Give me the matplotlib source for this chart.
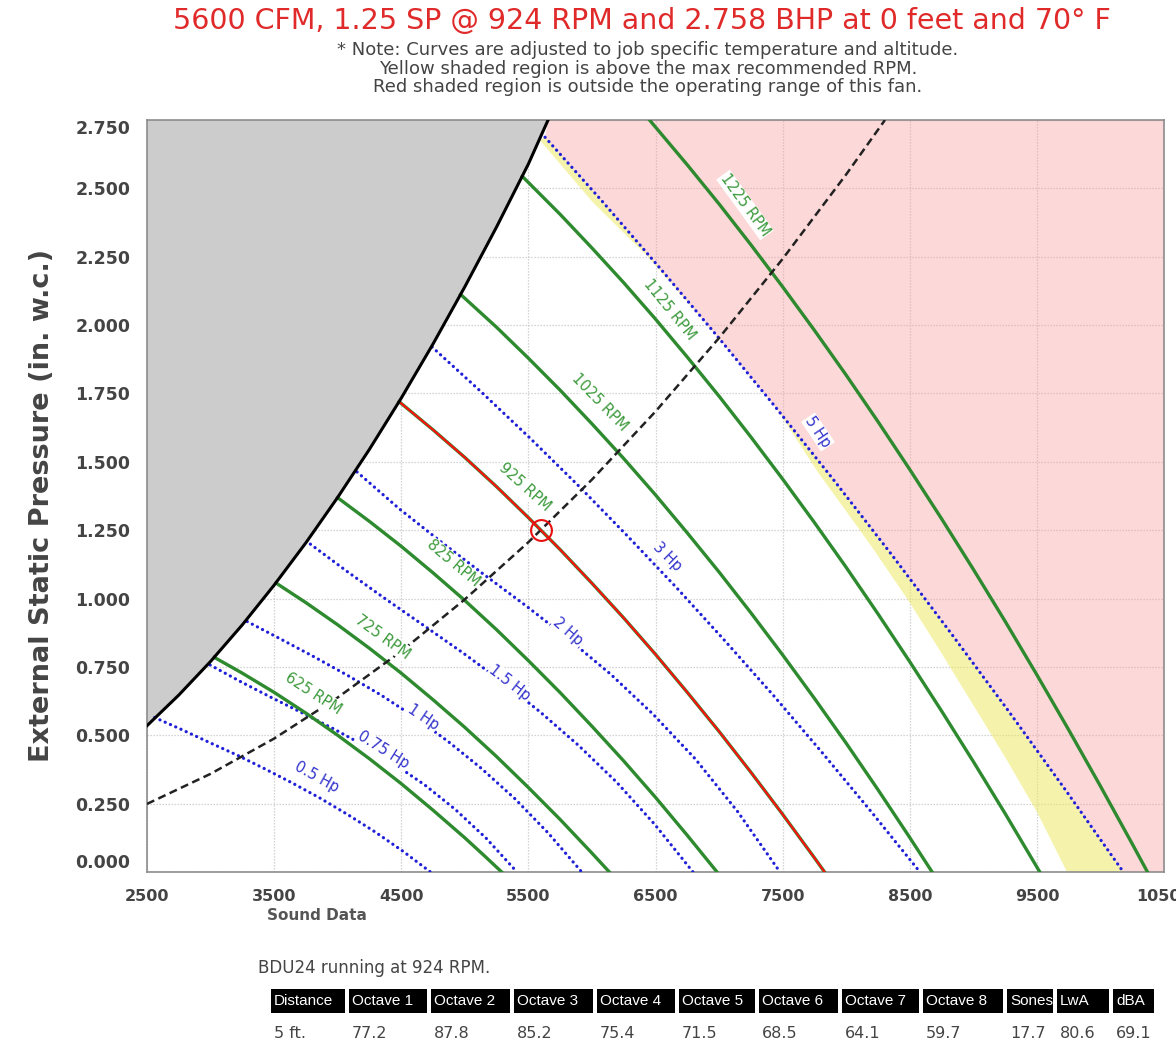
import matplotlib
matplotlib.use("Agg")
import matplotlib.pyplot as plt
from matplotlib.patches import Rectangle

W, H = 1176, 1060

# ---- chart values (CFM vs SP in. w.c.) ----
surge_cfm = [2500, 2750, 3000, 3250, 3500, 3750, 4000, 4250, 4500, 4750, 5000, 5250, 5500, 5655]
surge_sp = [0.535, 0.647, 0.770, 0.904, 1.049, 1.204, 1.370, 1.546, 1.733, 1.931, 2.140, 2.359, 2.589, 2.750]

system_cfm = [2500, 3000, 3500, 4000, 4500, 5000, 5500, 6000, 6500, 7000, 7500, 8000, 8305]
system_sp = [0.249, 0.359, 0.488, 0.638, 0.807, 0.997, 1.206, 1.435, 1.684, 1.953, 2.242, 2.551, 2.750]

cfm_625 = [3029, 3250, 3500, 3750, 4000, 4250, 4500, 4750, 5000, 5150, 5290]
sp_625 = [0.785, 0.727, 0.657, 0.581, 0.500, 0.414, 0.323, 0.226, 0.125, 0.061, 0.0]
cfm_725 = [3514, 3750, 4000, 4250, 4500, 4750, 5000, 5250, 5500, 5750, 6000, 6137]
sp_725 = [1.057, 0.985, 0.904, 0.818, 0.727, 0.630, 0.529, 0.422, 0.309, 0.192, 0.069, 0.0]
cfm_825 = [3999, 4250, 4500, 4750, 5000, 5250, 5500, 5750, 6000, 6250, 6500, 6750, 6984]
sp_825 = [1.369, 1.282, 1.191, 1.094, 0.993, 0.886, 0.773, 0.656, 0.533, 0.406, 0.273, 0.134, 0.0]
cfm_925 = [4483, 4750, 5000, 5250, 5500, 5750, 6000, 6250, 6500, 6750, 7000, 7250, 7500, 7750, 7830]
sp_925 = [1.720, 1.617, 1.516, 1.409, 1.296, 1.179, 1.056, 0.929, 0.796, 0.657, 0.514, 0.365, 0.211, 0.052, 0.0]
cfm_1025 = [4967, 5250, 5500, 5750, 6000, 6250, 6500, 6750, 7000, 7250, 7500, 7750, 8000, 8250, 8500, 8676]
sp_1025 = [2.112, 1.992, 1.879, 1.762, 1.639, 1.512, 1.379, 1.240, 1.097, 0.948, 0.794, 0.635, 0.471, 0.301, 0.126, 0.0]
cfm_1125 = [5452, 5750, 6000, 6250, 6500, 6750, 7000, 7250, 7500, 7750, 8000, 8250, 8500, 8750, 9000, 9250, 9523]
sp_1125 = [2.544, 2.405, 2.282, 2.155, 2.022, 1.883, 1.740, 1.591, 1.437, 1.278, 1.114, 0.944, 0.769, 0.589, 0.404, 0.214, 0.0]
cfm_1225 = [6453, 6750, 7000, 7250, 7500, 7750, 8000, 8250, 8500, 8750, 9000, 9250, 9500, 9750, 10000, 10250, 10370]
sp_1225 = [2.750, 2.586, 2.443, 2.294, 2.140, 1.981, 1.817, 1.647, 1.472, 1.292, 1.107, 0.917, 0.721, 0.520, 0.314, 0.103, 0.0]

cfm_05hp = [2560, 2777, 2994, 3211, 3428, 3645, 3862, 4079, 4296, 4513, 4730]
sp_05hp = [0.565, 0.520, 0.473, 0.427, 0.377, 0.325, 0.270, 0.210, 0.146, 0.076, 0.0]
cfm_075hp = [2996, 3237, 3479, 3720, 3962, 4203, 4444, 4686, 4927, 5169, 5410]
sp_075hp = [0.757, 0.696, 0.638, 0.582, 0.525, 0.464, 0.395, 0.318, 0.228, 0.123, 0.0]
cfm_1hp = [3288, 3551, 3814, 4078, 4341, 4604, 4867, 5130, 5394, 5657, 5920]
sp_1hp = [0.916, 0.852, 0.787, 0.719, 0.647, 0.567, 0.478, 0.379, 0.268, 0.142, 0.0]
cfm_15hp = [3785, 4086, 4387, 4688, 4989, 5290, 5591, 5892, 6193, 6494, 6795]
sp_15hp = [1.199, 1.095, 0.995, 0.898, 0.800, 0.697, 0.586, 0.464, 0.329, 0.174, 0.0]
cfm_2hp = [4152, 4485, 4817, 5150, 5483, 5816, 6148, 6481, 6814, 7146, 7479]
sp_2hp = [1.463, 1.328, 1.206, 1.088, 0.973, 0.852, 0.723, 0.577, 0.413, 0.221, 0.0]
cfm_3hp = [4742, 5126, 5510, 5893, 6277, 6661, 7045, 7429, 7812, 8196, 8580]
sp_3hp = [1.920, 1.757, 1.588, 1.413, 1.230, 1.042, 0.846, 0.645, 0.436, 0.221, 0.0]
cfm_5hp = [5631, 6086, 6541, 6996, 7451, 7906, 8360, 8815, 9270, 9725, 10180]
sp_5hp = [2.687, 2.450, 2.205, 1.954, 1.696, 1.431, 1.159, 0.879, 0.593, 0.300, 0.0]

# left edge of the "above max recommended RPM" band
maxrpm_cfm = [5590, 6005, 6440, 6996, 7451, 7780, 7896, 8200, 8500, 8750, 9000, 9250, 9500, 9737]
maxrpm_sp = [2.676, 2.450, 2.250, 1.954, 1.696, 1.460, 1.386, 1.190, 0.985, 0.800, 0.610, 0.420, 0.220, 0.0]

op_cfm, op_sp = 5600, 1.25

x_ticks = [2500, 3500, 4500, 5500, 6500, 7500, 8500, 9500, 10500]
y_ticks = [0.0, 0.25, 0.5, 0.75, 1.0, 1.25, 1.5, 1.75, 2.0, 2.25, 2.5, 2.75]

sound_headers = ["Distance", "Octave 1", "Octave 2", "Octave 3", "Octave 4", "Octave 5",
                 "Octave 6", "Octave 7", "Octave 8", "Sones", "LwA", "dBA"]
sound_values = ["5 ft.", "77.2", "87.8", "85.2", "75.4", "71.5",
                "68.5", "64.1", "59.7", "17.7", "80.6", "69.1"]

rpm_curves = [("625 RPM", cfm_625, sp_625), ("725 RPM", cfm_725, sp_725),
              ("825 RPM", cfm_825, sp_825), ("925 RPM", cfm_925, sp_925),
              ("1025 RPM", cfm_1025, sp_1025), ("1125 RPM", cfm_1125, sp_1125),
              ("1225 RPM", cfm_1225, sp_1225)]
hp_curves = [("0.5 Hp", cfm_05hp, sp_05hp), ("0.75 Hp", cfm_075hp, sp_075hp),
             ("1 Hp", cfm_1hp, sp_1hp), ("1.5 Hp", cfm_15hp, sp_15hp),
             ("2 Hp", cfm_2hp, sp_2hp), ("3 Hp", cfm_3hp, sp_3hp),
             ("5 Hp", cfm_5hp, sp_5hp)]

# label anchor (cfm, sp) and rotation, placed by eye
rpm_label_pos = {"625 RPM": (3806, 0.654, -33), "725 RPM": (4356, 0.859, -36),
                 "825 RPM": (4907, 1.130, -40), "925 RPM": (5473, 1.408, -42),
                 "1025 RPM": (6063, 1.718, -46), "1125 RPM": (6614, 2.055, -51),
                 "1225 RPM": (7204, 2.439, -54)}
hp_label_pos = {"0.5 Hp": (3837, 0.347, -29), "0.75 Hp": (4356, 0.446, -32),
                "1 Hp": (4671, 0.567, -34), "1.5 Hp": (5355, 0.691, -38),
                "2 Hp": (5812, 0.878, -41), "3 Hp": (6590, 1.152, -45),
                "5 Hp": (7778, 1.609, -56)}

GREEN = "#2e8a2e"
GREEN_TXT = "#3d9a3d"
BLUE = "#1f1fd8"
BLUE_TXT = "#3434cc"
GREY_TXT = "#444444"

plt.rcParams["font.family"] = ["DejaVu Sans"]
fig = plt.figure(figsize=(W / 100, H / 100), dpi=100)


def fx(x):
    return x / W


def fy(y):
    return 1 - y / H


ax = fig.add_axes([fx(147), fy(872), (1164 - 147) / W, (872 - 120) / H])
ax.set_xlim(2500, 10500)
ax.set_ylim(0, 2.75)
ax.set_axisbelow(True)
ax.grid(True, color="#c8c8c8", linestyle=(0, (1, 1.4)), linewidth=0.9)
for sp in ax.spines.values():
    sp.set_color("#8c8c8c")
    sp.set_linewidth(1.2)

# shaded regions
ax.fill(surge_cfm + [2500], surge_sp + [2.75], color="#cccccc", lw=0, zorder=2)
ax.fill(maxrpm_cfm + cfm_5hp[::-1], maxrpm_sp + sp_5hp[::-1],
        color="#ede959", alpha=0.5, lw=0, zorder=1)
ax.fill(cfm_5hp + [10500, 10500, surge_cfm[-1]], sp_5hp + [0, 2.75, 2.75],
        color="#fb9e9e", alpha=0.4, lw=0, zorder=1)

# system curve and surge line
ax.plot(system_cfm, system_sp, color="#222222", lw=1.8, linestyle=(0, (3.2, 1.8)), zorder=4)
ax.plot(surge_cfm, surge_sp, color="black", lw=2.2, zorder=5)

for name, c, s in hp_curves:
    ax.plot(c, s, color=BLUE, lw=2.3, linestyle=(0, (0.05, 1.75)),
            dash_capstyle="round", zorder=3)
for name, c, s in rpm_curves:
    ax.plot(c, s, color=GREEN, lw=2.4, zorder=3)
# operating speed drawn over its green curve
ax.plot(cfm_925, sp_925, color="#ff1010", lw=1.5, zorder=4)
ax.plot([op_cfm], [op_sp], marker="o", ms=15, mfc="none", mec="#e81010", mew=1.5, zorder=6)

bbox = dict(facecolor="white", edgecolor="none", pad=0.6)
for name, c, s in rpm_curves:
    lx, ly, rot = rpm_label_pos[name]
    ax.text(lx, ly, name, color=GREEN_TXT, fontsize=10.5, rotation=rot,
            rotation_mode="anchor", ha="center", va="center", bbox=bbox, zorder=7)
for name, c, s in hp_curves:
    lx, ly, rot = hp_label_pos[name]
    ax.text(lx, ly, name, color=BLUE_TXT, fontsize=10.5, rotation=rot,
            rotation_mode="anchor", ha="center", va="center", bbox=bbox, zorder=7)

ax.set_xticks(x_ticks)
ax.set_xticklabels([str(v) for v in x_ticks])
ax.set_yticks(y_ticks)
ax.set_yticklabels([f"{v:.3f}" for v in y_ticks])
ax.tick_params(length=0, labelcolor=GREY_TXT)
ax.tick_params(axis="x", pad=12, labelsize=11.5)
ax.tick_params(axis="y", pad=12, labelsize=12.5)
for lab in ax.get_xticklabels() + ax.get_yticklabels():
    lab.set_fontweight("bold")
ylabs = ax.get_yticklabels()
ylabs[0].set_va("bottom")
ylabs[-1].set_va("top")

# titles and notes
fig.text(fx(642), fy(21), "5600 CFM, 1.25 SP @ 924 RPM and 2.758 BHP at 0 feet and 70\u00b0 F",
         color="#e02a2a", fontsize=20.5, ha="center", va="center")
notes = ["* Note: Curves are adjusted to job specific temperature and altitude.",
         "Yellow shaded region is above the max recommended RPM.",
         "Red shaded region is outside the operating range of this fan."]
for i, line in enumerate(notes):
    fig.text(fx(648), fy(50 + 18.5 * i), line, color=GREY_TXT, fontsize=13,
             ha="center", va="center")

fig.text(fx(42), fy(505), "External Static Pressure (in. w.c.)", rotation=90,
         color=GREY_TXT, fontsize=19.5, fontweight="bold", ha="center", va="center")
fig.text(fx(267), fy(915), "Sound Data", color="#555555", fontsize=11,
         fontweight="bold", ha="left", va="center")

# sound table
fig.text(fx(258), fy(968), "BDU24 running at 924 RPM.", color=GREY_TXT, fontsize=12,
         ha="left", va="center")
col_left = [271, 349, 431, 514, 597, 679, 759, 842, 923, 1007, 1057, 1113]
col_right = [345, 427, 510, 593, 675, 755, 838, 919, 1003, 1053, 1109, 1154]
for head, val, x0, x1 in zip(sound_headers, sound_values, col_left, col_right):
    fig.add_artist(Rectangle((fx(x0), fy(1013)), (x1 - x0) / W, 24 / H,
                             transform=fig.transFigure, facecolor="black", edgecolor="none"))
    fig.text(fx(x0 + 3), fy(1001), head, color="white", fontsize=11,
             family="Liberation Sans", ha="left", va="center")
    fig.text(fx(x0 + 3), fy(1033), val, color=GREY_TXT, fontsize=11.5,
             ha="left", va="center")

fig.savefig("out.png", dpi=100)
